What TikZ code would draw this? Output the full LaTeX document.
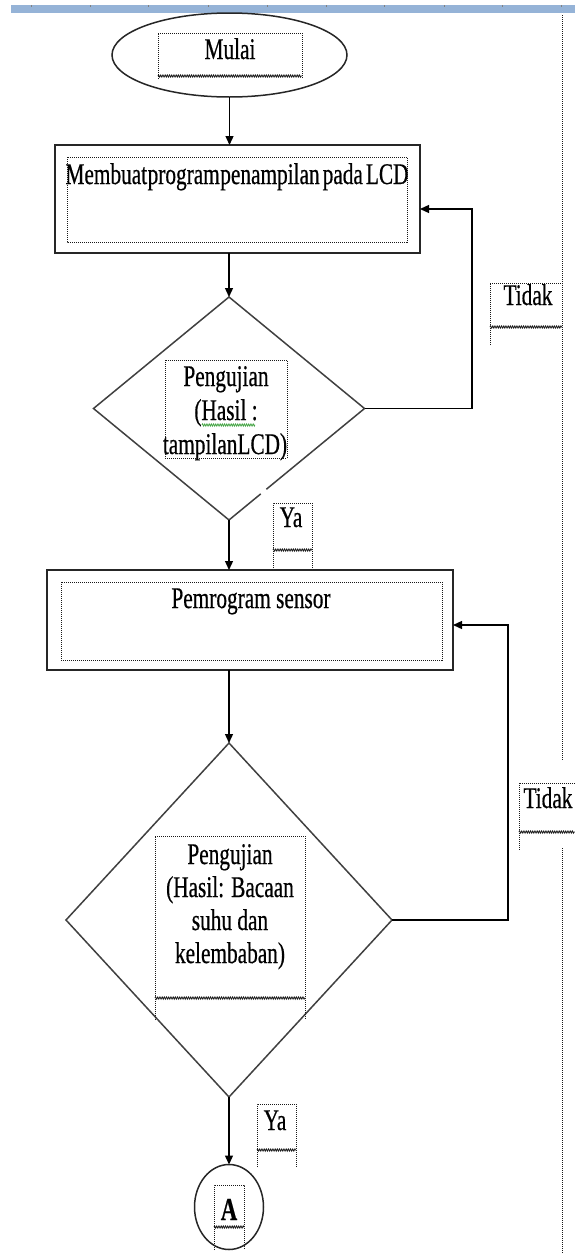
\documentclass[tikz,border=0pt]{standalone}
\usepackage{fontspec}
\setmainfont{Liberation Serif}[FakeStretch=0.71,FakeBold=0.5]
\usetikzlibrary{shapes.geometric,arrows.meta,calc,decorations.pathmorphing}
\definecolor{ruler}{RGB}{149,179,215}
\definecolor{spell}{RGB}{70,165,70}
\tikzset{
 every node/.style={inner sep=0pt, outer sep=0pt},
 lbl/.style={anchor=base, font=\fontsize{30}{34}\selectfont},
 procbox/.style={draw=black!85, line width=1.9pt, rectangle},
 decbox/.style={draw=black!75, line width=1.5pt, diamond},
 term/.style={draw=black!85, line width=1.5pt, ellipse},
 arr/.style={draw=black, line width=1.3pt, -{Triangle[length=9pt,width=8pt]}},
 frame/.style={draw=black!90, line width=1pt, dash pattern=on 1pt off 1pt},
 wavy/.style={draw=black!90, line width=0.8pt, decorate, decoration={zigzag, segment length=2.2pt, amplitude=1.1pt}},
}
\begin{document}
\begin{tikzpicture}[x=1pt,y=-1pt]
\useasboundingbox (0,0) rectangle (575,1253);
% ruler
\fill[ruler] (11,5) rectangle (575,12.5);
\foreach \tx in {31,90,148,208,267,326,384,444,502,561} {\fill[black!50] (\tx,5) rectangle ++(1.2,2);}
% page margin line
\draw[frame] (562,15) -- (562,760);
\draw[frame] (562,848) -- (562,1253);

% start
\node[term, minimum width=235pt, minimum height=84pt] (start) at (229.5,55) {};
\draw[frame] (158,79) -- (158,33) -- (302,33) -- (302,79);
\draw[wavy] (158,76) -- (302,76);
\node[lbl] (tmulai) at (230,59) {Mulai};

% box 1
\node[procbox, minimum width=365pt, minimum height=108pt] (box1) at (237.5,199) {};
\draw[frame] (67,157) rectangle (407,242);
\node[lbl] (tbox1) at (237,184) {Membuat\hspace{0.5pt}program\hspace{0.5pt}penampilan\hspace{3pt}pada\hspace{3pt}LCD};

% decision 1
\node[decbox, minimum width=271pt, minimum height=223pt] (d1) at (229,408.5) {};
\draw[white, line width=3.5pt] ($(d1.south)!0.235!(d1.east)$) -- ($(d1.south)!0.275!(d1.east)$);
\draw[frame] (165,360) rectangle (287,458);
\node[lbl] (d1a) at (226,386) {Pengujian};
\node[lbl] (d1b) at (226,420) {(Hasil :};
\node[lbl] (d1c) at (225,454) {tampilanLCD)};
\draw[wavy, draw=spell] (202,425) -- (255,425);

% Ya 1
\draw[frame] (273,570) -- (273,503) -- (312,503) -- (312,570);
\draw[wavy] (273,550) -- (312,550);
\node[lbl] (ya1) at (291,527) {Ya};

% Tidak 1
\draw[frame] (490,345) -- (490,283) -- (562,283);
\draw[wavy] (490,327) -- (562,327);
\node[lbl] (tidak1) at (528,305) {Tidak};

% box 2
\node[procbox, minimum width=406pt, minimum height=100pt] (box2) at (250,620) {};
\draw[frame] (61,582) rectangle (442,660);
\node[lbl] (tbox2) at (251,608) {Pemrogram sensor};

% decision 2
\node[decbox, minimum width=326pt, minimum height=354pt] (d2) at (229,920) {};
\draw[frame] (155,1020) -- (155,836) -- (305,836) -- (305,1020);
\draw[wavy] (155,998) -- (305,998);
\node[lbl] (d2a) at (230,864) {Pengujian};
\node[lbl] (d2b) at (230,897) {(Hasil: Bacaan};
\node[lbl] (d2c) at (230,930) {suhu dan};
\node[lbl] (d2d) at (230,963) {kelembaban)};

% Tidak 2
\draw[frame] (575,783) -- (519,783) -- (519,850);
\draw[wavy] (519,832) -- (575,832);
\node[lbl] (tidak2) at (548,808) {Tidak};

% Ya 2
\draw[frame] (257,1167) -- (257,1104) -- (296,1104) -- (296,1167);
\draw[wavy] (257,1150) -- (296,1150);
\node[lbl] (ya2) at (275,1130) {Ya};

% connector A
\node[term, minimum width=69pt, minimum height=85pt] (endA) at (229,1207) {};
\draw[frame] (214,1250) -- (214,1185) -- (244,1185) -- (244,1250);
\draw[wavy] (214,1227) -- (244,1227);
\node[lbl, font=\fontsize{32}{38}\selectfont\bfseries] (tA) at (229,1220) {A};

% connectors
\draw[arr] (start.south) -- (start.south |- box1.north);
\draw[arr] (box1.south -| d1.north) -- (d1.north);
\draw[arr] (d1.south) -- (d1.south |- box2.north);
\draw[arr] (box2.south -| d2.north) -- (d2.north);
\draw[arr] (d2.south) -- (endA.north);
\coordinate (c1) at (472,209);
\draw[arr] (d1.east) -| (c1) -- (box1.east |- c1);
\coordinate (c2) at (508,625);
\draw[arr] (d2.east) -| (c2) -- (box2.east |- c2);
\end{tikzpicture}
\end{document}
